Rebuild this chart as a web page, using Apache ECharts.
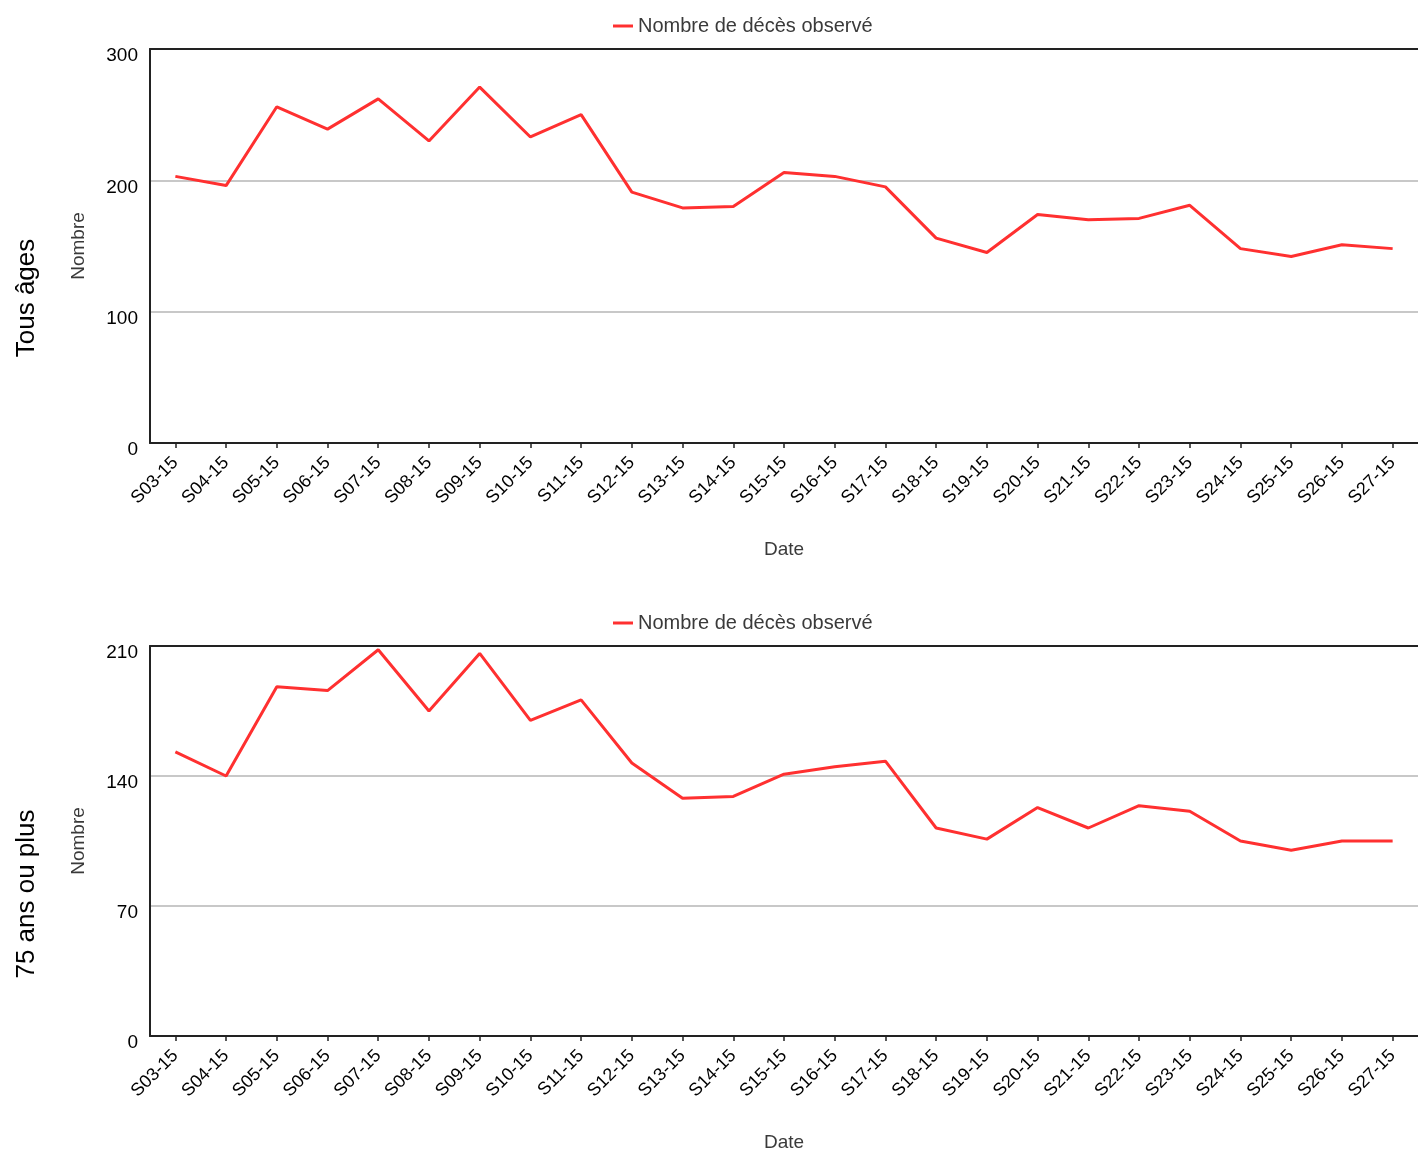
<!DOCTYPE html>
<html>
<head>
<meta charset="utf-8">
<script src="https://cdn.jsdelivr.net/npm/echarts@6/dist/echarts.min.js"></script>
<style>
html,body{margin:0;padding:0;background:#fff;}
#chart{width:1418px;height:1153px;}
</style>
</head>
<body>
<div id="chart"></div>
<script>
var categories = ['S03-15','S04-15','S05-15','S06-15','S07-15','S08-15','S09-15','S10-15','S11-15','S12-15','S13-15','S14-15','S15-15','S16-15','S17-15','S18-15','S19-15','S20-15','S21-15','S22-15','S23-15','S24-15','S25-15','S26-15','S27-15'];
var tousAges = [203,196,256,239,262,230,271,233,250,191,179,180,206,203,195,156,145,174,170,171,181,148,142,151,148];
var plus75 = [153,140,188,186,208,175,206,170,181,147,128,129,141,145,148,112,106,123,112,124,121,105,100,105,105];
var seriesName = 'Nombre de décès observé';
var groupLabels = ['Tous âges', '75 ans ou plus'];
var yTop = {min:0, max:300, interval:100};
var yBottom = {min:0, max:210, interval:70};

var FONT = 'Liberation Sans, Arial, sans-serif';
var RED = '#ff3030';

function xAxis(gridIndex){
  return {
    type:'category', gridIndex:gridIndex, data:categories, boundaryGap:true,
    name:'Date', nameLocation:'middle', nameGap:97,
    nameTextStyle:{fontSize:19, color:'#3a3a3a', fontFamily:FONT},
    axisLine:{show:true, lineStyle:{color:'#222', width:2}},
    axisTick:{show:true, alignWithLabel:true, length:5, lineStyle:{color:'#222', width:1.5}},
    axisLabel:{rotate:45, fontSize:18, color:'#000', fontFamily:FONT, margin:17, interval:0},
    splitLine:{show:false}
  };
}
function xAxisTop(gridIndex){
  return {
    type:'category', gridIndex:gridIndex, data:categories, position:'top',
    axisLine:{show:true, lineStyle:{color:'#222', width:2}},
    axisTick:{show:false}, axisLabel:{show:false}, splitLine:{show:false}
  };
}
function yAxis(gridIndex, r){
  return {
    type:'value', gridIndex:gridIndex, min:r.min, max:r.max, interval:r.interval,
    name:'Nombre', nameLocation:'middle', nameGap:62, nameRotate:90,
    nameTextStyle:{fontSize:19, color:'#3a3a3a', fontFamily:FONT},
    axisLine:{show:true, lineStyle:{color:'#222', width:2}},
    axisTick:{show:false},
    axisLabel:{fontSize:19, color:'#000', fontFamily:FONT, margin:12, verticalAlign:'top', lineHeight:14},
    splitLine:{show:true, lineStyle:{color:'#c8c8c8', width:2}}
  };
}
function legend(top){
  return {
    top:top, left:608, itemWidth:20, itemHeight:3, itemGap:10,
    icon:'rect',
    textStyle:{fontSize:20, color:'#3a3a3a', fontFamily:FONT},
    data:[{name:seriesName}]
  };
}

var chart = echarts.init(document.getElementById('chart'), null, {renderer:'canvas'});
chart.setOption({
  animation:false,
  backgroundColor:'#fff',
  legend:[legend(11), legend(608)],
  grid:[
    {left:150, right:-3, top:49, height:394, containLabel:false},
    {left:150, right:-3, top:646, height:394, containLabel:false}
  ],
  xAxis:[xAxis(0), xAxis(1), xAxisTop(0), xAxisTop(1)],
  yAxis:[yAxis(0, yTop), yAxis(1, yBottom)],
  graphic:[
    {type:'text', x:27, y:298, rotation:Math.PI/2,
     style:{text:groupLabels[0], fontSize:26, fill:'#000', fontFamily:FONT, align:'center', verticalAlign:'middle'}},
    {type:'text', x:27, y:894, rotation:Math.PI/2,
     style:{text:groupLabels[1], fontSize:26, fill:'#000', fontFamily:FONT, align:'center', verticalAlign:'middle'}}
  ],
  series:[
    {name:seriesName, type:'line', xAxisIndex:0, yAxisIndex:0, data:tousAges, symbol:'none',
     lineStyle:{color:RED, width:3}, itemStyle:{color:RED}},
    {name:seriesName, type:'line', xAxisIndex:1, yAxisIndex:1, data:plus75, symbol:'none',
     lineStyle:{color:RED, width:3}, itemStyle:{color:RED}}
  ]
});
</script>
</body>
</html>
